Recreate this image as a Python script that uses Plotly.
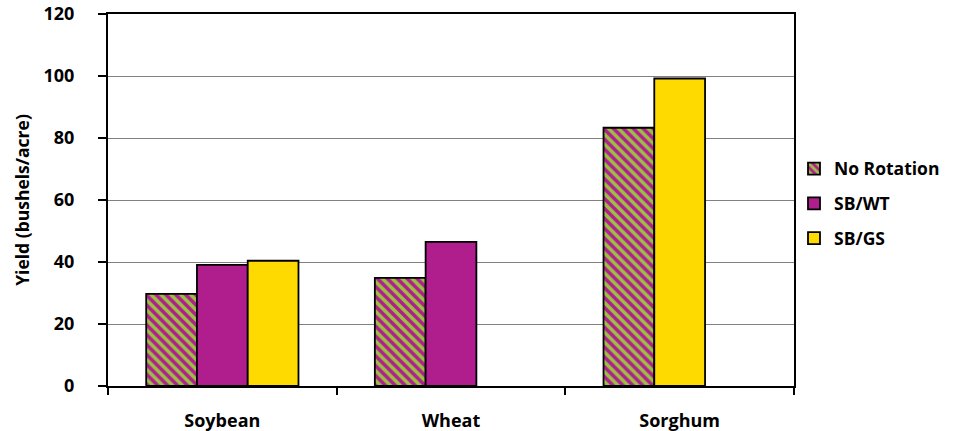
import plotly.graph_objects as go

categories = ["Soybean", "Wheat", "Sorghum"]
no_rotation = [29.7, 34.9, 83.3]
sb_wt = [39.1, 46.5, None]
sb_gs = [40.4, None, 99.2]
y_ticks = [0, 20, 40, 60, 80, 100, 120]

MAGENTA = "#B01E8E"
YELLOW = "#FFDA00"
GREEN = "#9CC043"
W = 0.222

fig = go.Figure()
fig.add_trace(go.Bar(
    name="No Rotation", x=categories, y=no_rotation, width=W,
    offset=[-0.333, -0.333, -0.333], legendgroup="a",
    marker=dict(color=MAGENTA, line=dict(color="black", width=1.8),
                pattern=dict(shape="\\", fgcolor=GREEN, bgcolor=MAGENTA,
                             size=7, solidity=0.5, fillmode="replace")),
))
fig.add_trace(go.Bar(
    name="SB/WT", x=categories, y=sb_wt, width=W,
    offset=[-0.111, -0.111, -0.111], legendgroup="b",
    marker=dict(color=MAGENTA, line=dict(color="black", width=1.8)),
))
fig.add_trace(go.Bar(
    name="SB/GS", x=categories, y=sb_gs, width=W,
    offset=[0.111, 0.111, -0.111], legendgroup="c",
    marker=dict(color=YELLOW, line=dict(color="black", width=1.8)),
))

font_family = "Open Sans"
fig.update_layout(
    width=958, height=431,
    margin=dict(l=108, r=164, t=14, b=45),
    paper_bgcolor="white", plot_bgcolor="white",
    barmode="overlay",
    font=dict(family=font_family, color="black"),
    showlegend=True,
    legend=dict(x=1.0, y=0.49, xanchor="left", yanchor="middle",
                font=dict(size=17.5, family=font_family, weight="bold"),
                bgcolor="rgba(0,0,0,0)", tracegroupgap=9, itemwidth=30),
)
fig.update_xaxes(
    type="category", range=[-0.5, 2.5], automargin=False,
    showline=True, linecolor="black", linewidth=2, mirror=True,
    ticks="outside", tickson="boundaries", ticklen=7, tickwidth=1.5, tickcolor="black",
    showgrid=False,
    tickfont=dict(size=18, weight="bold"),
    ticklabelstandoff=17,
)
fig.update_yaxes(
    range=[0, 120], tickvals=y_ticks, automargin=False,
    showline=True, linecolor="black", linewidth=2, mirror=True,
    ticks="outside", ticklen=8, tickwidth=1.5, tickcolor="black",
    showgrid=True, gridcolor="#808080", gridwidth=1.2,
    zeroline=False,
    tickfont=dict(size=18, weight="bold"),
    ticklabelstandoff=20,
    title=dict(text="Yield (bushels/acre)", font=dict(size=17.5, weight="bold"), standoff=9),
)

fig.write_html("out.html", config={"displayModeBar": False},
               post_script="document.body.style.margin='0';")
